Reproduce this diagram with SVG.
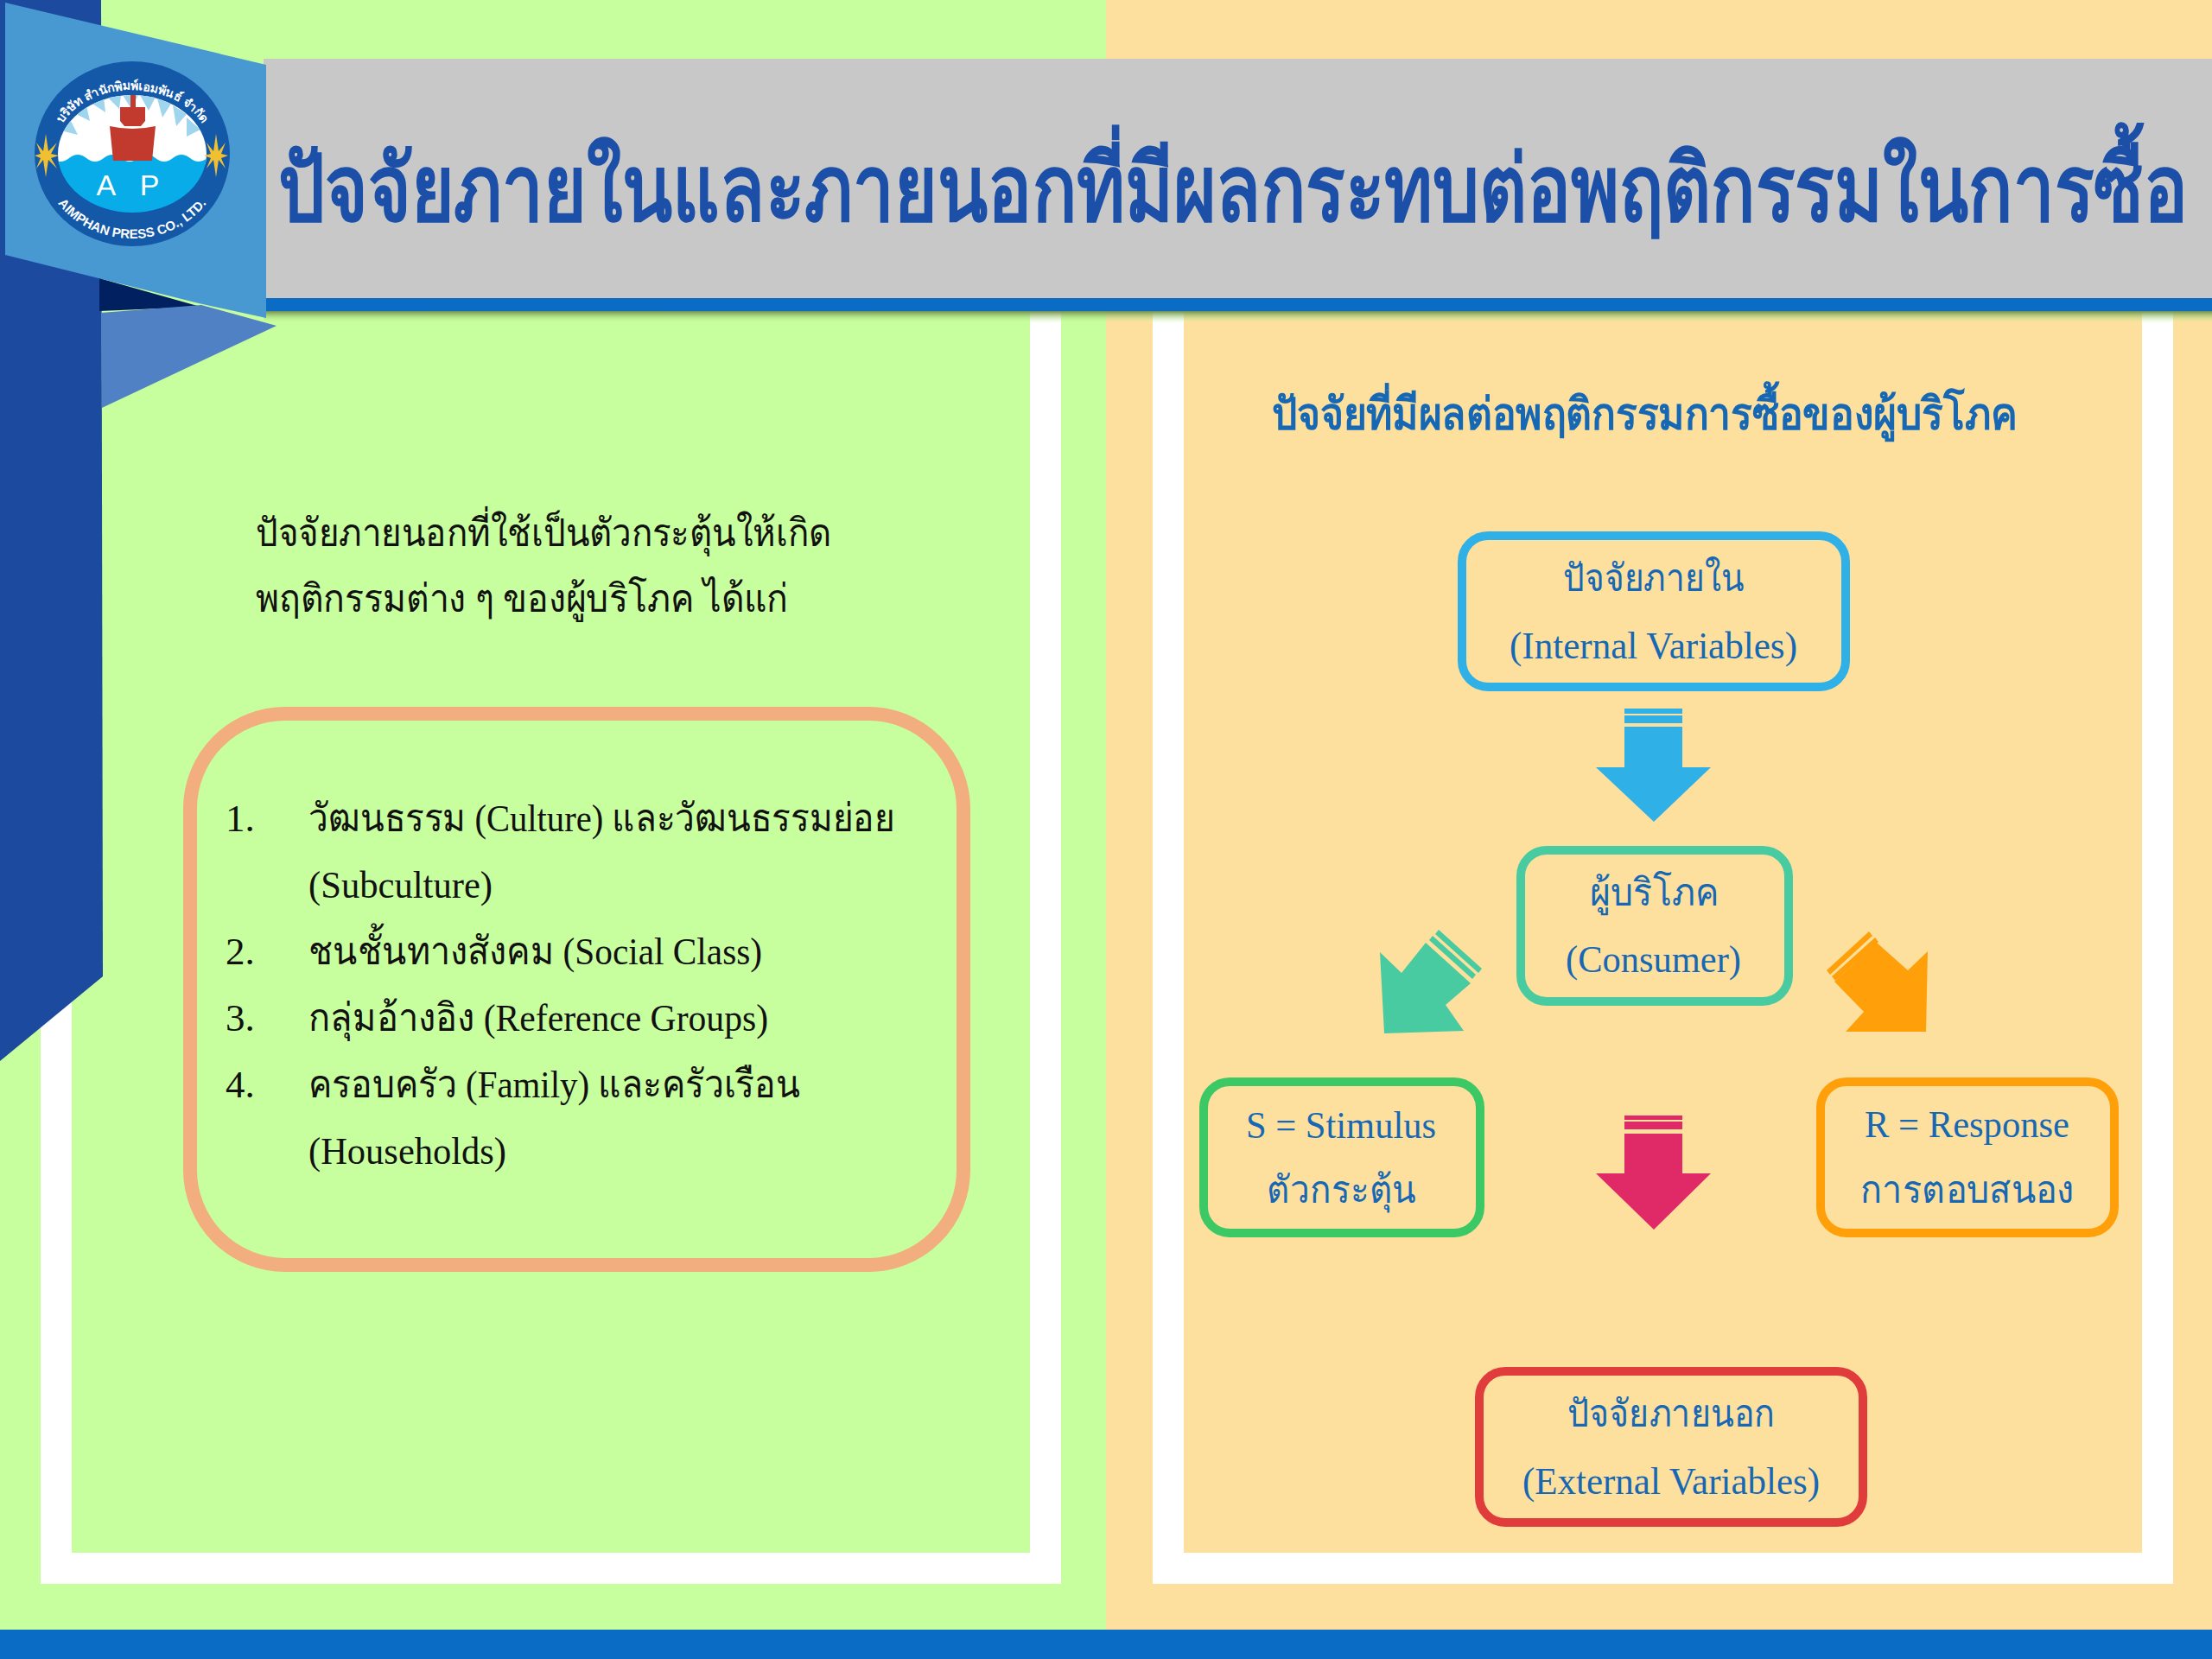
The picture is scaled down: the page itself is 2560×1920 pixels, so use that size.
<svg xmlns="http://www.w3.org/2000/svg" width="2560" height="1920" viewBox="0 0 2560 1920">
<defs>
<style>
text{font-family:"Liberation Serif","Noto Sans",serif}
.t{fill:#111;font-size:45px}
.b{fill:#1668b4;font-size:44px}
.box{fill:none;stroke-width:10}
</style>
<linearGradient id="sh" x1="0" y1="0" x2="0" y2="1"><stop offset="0" stop-color="#6f8f4c"/><stop offset="1" stop-color="#c8ff9e" stop-opacity="0"/></linearGradient>
<clipPath id="inner"><ellipse cx="153" cy="178" rx="86" ry="68"/></clipPath>
<path id="arcTop" d="M61 178A92 74 0 0 1 245 178"/>
<path id="arcBot" d="M47 178A106 98 0 0 0 259 178"/>
</defs>
<rect width="1280" height="1920" fill="#c8ff9e"/>
<rect x="1280" width="1280" height="1920" fill="#fee09e"/>
<rect x="0" y="1886" width="2560" height="34" fill="#0a6cc4"/>
<path d="M65 360V1815H1210V360" fill="none" stroke="#fff" stroke-width="36"/>
<path d="M1352 360V1815H2497V360" fill="none" stroke="#fff" stroke-width="36"/>
<rect x="305" y="360" width="2255" height="14" fill="url(#sh)"/>
<rect x="305" y="68" width="2255" height="277" fill="#c8c8c8"/>
<rect x="303" y="345" width="2257" height="15" fill="#0a6cc4"/>
<path d="M0 0H117L119 1130L0 1228Z" fill="#1c4a9f"/>
<path d="M115 322L232 355L115 360Z" fill="#002060"/>
<path d="M117 362L233 353L320 377L118 472Z" fill="#4f81c4"/>
<path d="M6 3L308 75V368L230 351L6 295Z" fill="#4898d2"/>
<g id="logo">
<ellipse cx="153" cy="178" rx="113" ry="107" fill="#1458a8"/>
<g clip-path="url(#inner)">
<rect x="60" y="100" width="190" height="90" fill="#fff"/>
<path d="M66 150L82 140L90 156ZM84 130L100 122L104 140ZM104 118L120 112L122 130ZM124 112L140 110L138 126ZM142 110H160L152 126ZM162 110L180 112L172 128ZM182 114L198 120L188 136ZM200 122L216 132L204 146ZM216 136L232 150L216 158Z" fill="#9fd6ee"/>
<path d="M60 183q10 8 20 0t20 0t20 0t20 0t20 0t20 0t20 0t20 0t20 0t20 0V250H60Z" fill="#08ace8"/>
</g>
<path d="M127 146Q153 152 180 146L176 186H131Z" fill="#c23a2e"/>
<path d="M151 110H157V124H168V140L163 146H144L139 140V124H151Z" fill="#c23a2e"/>
<text x="153" y="226" text-anchor="middle" style="font-family:'Liberation Sans',sans-serif;font-size:34px;fill:#fff;letter-spacing:10px">A P</text>
<text style="font-family:'Liberation Sans','Noto Sans',sans-serif;font-size:14px;font-weight:bold;fill:#fff"><textPath href="#arcTop" startOffset="50%" text-anchor="middle">บริษัท สำนักพิมพ์เอมพันธ์ จำกัด</textPath></text>
<text style="font-family:'Liberation Sans',sans-serif;font-size:15px;font-weight:bold;fill:#fff"><textPath href="#arcBot" startOffset="50%" text-anchor="middle">AIMPHAN PRESS CO., LTD.</textPath></text>
<path d="M53 155L56 175L66 165L59 178L68 180L59 183L66 195L56 185L53 205L50 185L42 195L47 183L40 180L47 178L42 165L50 175Z" fill="#f0c030"/>
<path d="M250 155L253 175L261 165L256 178L264 180L256 183L261 195L253 185L250 205L247 185L239 195L244 183L236 180L244 178L239 165L247 175Z" fill="#f0c030"/>
</g>
<text id="title" transform="translate(322 255) scale(1 1.15)" x="0" y="0" textLength="2210" lengthAdjust="spacingAndGlyphs" style="font-size:92px;font-weight:bold;fill:#1c4fa8">ปัจจัยภายในและภายนอกที่มีผลกระทบต่อพฤติกรรมในการซื้อ</text>
<g id="left">
<text class="t" x="296" y="632" textLength="666" lengthAdjust="spacingAndGlyphs">ปัจจัยภายนอกที่ใช้เป็นตัวกระตุ้นให้เกิด</text>
<text class="t" x="296" y="708" textLength="616" lengthAdjust="spacingAndGlyphs">พฤติกรรมต่าง ๆ ของผู้บริโภค ได้แก่</text>
<rect x="220" y="826" width="895" height="638" rx="110" fill="none" stroke="#f2ae7f" stroke-width="16"/>
<text class="t" x="261" y="962">1.</text><text class="t" x="357" y="962" textLength="678" lengthAdjust="spacingAndGlyphs">วัฒนธรรม (Culture) และวัฒนธรรมย่อย</text>
<text class="t" x="357" y="1039" textLength="213" lengthAdjust="spacingAndGlyphs">(Subculture)</text>
<text class="t" x="261" y="1116">2.</text><text class="t" x="357" y="1116" textLength="525" lengthAdjust="spacingAndGlyphs">ชนชั้นทางสังคม (Social Class)</text>
<text class="t" x="261" y="1193">3.</text><text class="t" x="357" y="1193" textLength="532" lengthAdjust="spacingAndGlyphs">กลุ่มอ้างอิง (Reference Groups)</text>
<text class="t" x="261" y="1270">4.</text><text class="t" x="357" y="1270" textLength="569" lengthAdjust="spacingAndGlyphs">ครอบครัว (Family) และครัวเรือน</text>
<text class="t" x="357" y="1347" textLength="229" lengthAdjust="spacingAndGlyphs">(Households)</text>
</g>
<text id="sub" x="1472" y="497" textLength="863" lengthAdjust="spacingAndGlyphs" style="font-size:52px;font-weight:bold;fill:#1668b4">ปัจจัยที่มีผลต่อพฤติกรรมการซื้อของผู้บริโภค</text>
<g id="n1"><rect class="box" x="1692" y="620" width="444" height="175" rx="30" stroke="#2fb0e6"/><text class="b" x="1809" y="684" textLength="209" lengthAdjust="spacingAndGlyphs">ปัจจัยภายใน</text><text class="b" x="1747" y="762" textLength="333" lengthAdjust="spacingAndGlyphs">(Internal Variables)</text></g>
<g id="n2"><rect class="box" x="1760" y="984" width="310" height="175" rx="30" stroke="#48cba0"/><text class="b" x="1840" y="1048" textLength="149" lengthAdjust="spacingAndGlyphs">ผู้บริโภค</text><text class="b" x="1812" y="1125" textLength="203" lengthAdjust="spacingAndGlyphs">(Consumer)</text></g>
<g id="n3"><rect class="box" x="1393" y="1252" width="320" height="175" rx="30" stroke="#3cc864"/><text class="b" x="1442" y="1317" textLength="220" lengthAdjust="spacingAndGlyphs">S = Stimulus</text><text class="b" x="1466" y="1392" textLength="173" lengthAdjust="spacingAndGlyphs">ตัวกระตุ้น</text></g>
<g id="n4"><rect class="box" x="2107" y="1252" width="340" height="175" rx="30" stroke="#ffa00a"/><text class="b" x="2158" y="1316" textLength="237" lengthAdjust="spacingAndGlyphs">R = Response</text><text class="b" x="2153" y="1392" textLength="247" lengthAdjust="spacingAndGlyphs">การตอบสนอง</text></g>
<g id="n5"><rect class="box" x="1712" y="1587" width="444" height="175" rx="30" stroke="#e03c3c"/><text class="b" x="1814" y="1651" textLength="240" lengthAdjust="spacingAndGlyphs">ปัจจัยภายนอก</text><text class="b" x="1762" y="1729" textLength="344" lengthAdjust="spacingAndGlyphs">(External Variables)</text></g>
<g id="connectors">
<g fill="#2fb0e6"><path d="M1880 841H1947V888H1980L1914 951L1847 888H1880Z"/><rect x="1880" y="820" width="67" height="6"/><rect x="1880" y="828" width="67" height="9"/></g>
<g fill="#e02a68"><path d="M1880 1312H1947V1358H1980L1914 1423L1847 1358H1880Z"/><rect x="1880" y="1291" width="67" height="5"/><rect x="1880" y="1298" width="67" height="9"/></g>
<g fill="#48cba0"><path d="M1597 1102L1622 1126L1650 1091L1702 1138L1673 1163L1694 1193L1602 1196Z"/><path d="M1665 1076L1715 1121L1711 1126L1661 1081Z"/><path d="M1658 1083L1708 1128L1704 1133L1654 1088Z"/></g>
<g fill="#ffa00a"><path d="M2231 1101L2208 1123L2172 1091L2123 1136L2157 1171L2136 1194H2229Z"/><path d="M2163 1078L2114 1123L2118 1128L2167 1083Z"/><path d="M2170 1085L2120 1130L2124 1135L2174 1090Z"/></g>
</g>
</svg>
